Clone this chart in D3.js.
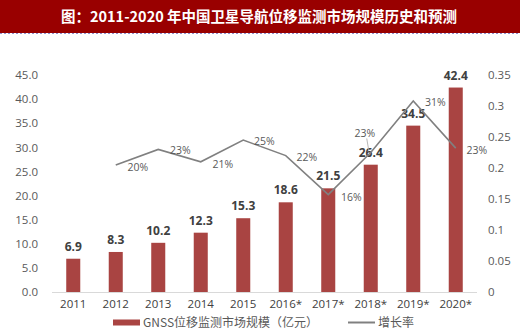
<!DOCTYPE html>
<html><head><meta charset="utf-8">
<script src="https://cdn.jsdelivr.net/npm/d3@7"></script>
<style>body{margin:0;background:#fff;}svg{display:block;}</style>
</head><body>
<svg id="c" width="520" height="333"></svg>
<script>
const categories = ["2011","2012","2013","2014","2015","2016*","2017*","2018*","2019*","2020*"];
const marketSize = [6.9, 8.3, 10.2, 12.3, 15.3, 18.6, 21.5, 26.4, 34.5, 42.4];
const growthCats = ["2012","2013","2014","2015","2016*","2017*","2018*","2019*","2020*"];
const growthRate = [0.205, 0.23, 0.21, 0.245, 0.22, 0.157, 0.225, 0.308, 0.232];
const growthLabels = ["20%","23%","21%","25%","22%","16%","23%","31%","23%"];
const leftTicks = [0,5,10,15,20,25,30,35,40,45];
const rightTicks = [0,0.05,0.1,0.15,0.2,0.25,0.3,0.35];
const rightTickLabels = ["0","0.05","0.1","0.15","0.2","0.25","0.3","0.35"];
const title = "图：2011-2020 年中国卫星导航位移监测市场规模历史和预测";
const legendBar = "GNSS位移监测市场规模（亿元）";
const legendLine = "增长率";

const svg = d3.select("#c");
const font = "'Noto Sans CJK SC','Noto Sans',sans-serif";

// title bar
svg.append("rect").attr("x",0).attr("y",0).attr("width",520).attr("height",33).attr("fill","#990000");
svg.append("line").attr("x1",0).attr("x2",520).attr("y1",33.5).attr("y2",33.5)
  .attr("stroke","#8f8fd0").attr("stroke-width",1).attr("stroke-dasharray","2,2");
svg.append("text").attr("x",259).attr("y",21.5).attr("text-anchor","middle")
  .attr("fill","#fff").attr("font-family",font).attr("font-weight","bold").attr("font-size",14.5)
  .text(title);

const x = d3.scaleBand().domain(categories).range([52,477]).paddingInner(0.67).paddingOuter(0.335);
const yL = d3.scaleLinear().domain([0,45]).range([292,75]);
const yR = d3.scaleLinear().domain([0,0.35]).range([292,75]);
const cx = d => x(d) + x.bandwidth()/2;

// left axis labels
const la = svg.append("g").attr("transform","translate(38,0)")
  .call(d3.axisLeft(yL).tickValues(leftTicks).tickFormat(d3.format(".1f")).tickSize(0).tickPadding(0));
la.select(".domain").remove();
la.selectAll("text").attr("fill","#595959").attr("font-family","'Open Sans','Noto Sans',sans-serif").attr("font-size",11.5);

// right axis labels
const ra = svg.append("g").attr("transform","translate(488,0)")
  .call(d3.axisRight(yR).tickValues(rightTicks).tickFormat((d,i)=>rightTickLabels[i]).tickSize(0).tickPadding(0));
ra.select(".domain").remove();
ra.selectAll("text").attr("fill","#595959").attr("font-family","'Open Sans','Noto Sans',sans-serif").attr("font-size",11.5);

// bars
svg.append("g").selectAll("rect").data(marketSize).join("rect")
  .attr("x",(d,i)=>x(categories[i])).attr("width",x.bandwidth())
  .attr("y",d=>yL(d)).attr("height",d=>yL(0)-yL(d)).attr("fill","#a94442");

// baseline
svg.append("line").attr("x1",52).attr("x2",477).attr("y1",292.5).attr("y2",292.5)
  .attr("stroke","#d9d9d9").attr("stroke-width",1);

// x axis
const xa = svg.append("g").attr("transform","translate(0,296)")
  .call(d3.axisBottom(x).tickSize(0).tickPadding(0));
xa.select(".domain").remove();
xa.selectAll("text").attr("dy","1em").attr("fill","#404040").attr("font-family","'Open Sans','Noto Sans',sans-serif").attr("font-size",11.5);

// bar value labels
svg.append("g").selectAll("text").data(marketSize).join("text")
  .attr("x",(d,i)=>cx(categories[i])).attr("y",d=>yL(d)-8)
  .attr("text-anchor","middle").attr("fill","#404040").attr("font-weight","bold")
  .attr("font-family","'Open Sans','Noto Sans',sans-serif").attr("font-size",12)
  .text(d=>d.toFixed(1));

// line
const line = d3.line().x((d,i)=>cx(growthCats[i])).y(d=>yR(d));
svg.append("path").datum(growthRate).attr("d",line).attr("fill","none")
  .attr("stroke","#808080").attr("stroke-width",1.6);

// growth labels
const labelOffsets = [[22,2],[22,1],[22,2],[21,1],[21,1],[23,2],[-6,-20],[22,1],[21,2]];
svg.append("g").selectAll("text").data(growthRate).join("text")
  .attr("x",(d,i)=>cx(growthCats[i])+labelOffsets[i][0])
  .attr("y",(d,i)=>yR(d)+labelOffsets[i][1]+4)
  .attr("text-anchor","middle").attr("fill","#595959")
  .attr("font-family","'Open Sans','Noto Sans',sans-serif").attr("font-size",10.5)
  .text((d,i)=>growthLabels[i]);
// leader line for 2018
{
  const i = 6; const px = cx(growthCats[i]), py = yR(growthRate[i]);
  svg.append("line").attr("x1",px-4).attr("y1",py-14).attr("x2",px-2).attr("y2",py-2)
    .attr("stroke","#a6a6a6").attr("stroke-width",0.8);
}

// legend
const lg = svg.append("g");
lg.append("rect").attr("x",113).attr("y",319.5).attr("width",27).attr("height",6).attr("fill","#a94442");
lg.append("text").attr("x",143).attr("y",327).attr("fill","#595959").attr("font-family",font).attr("font-size",12).text(legendBar);
lg.append("line").attr("x1",348).attr("x2",375).attr("y1",322.5).attr("y2",322.5).attr("stroke","#808080").attr("stroke-width",2);
lg.append("text").attr("x",378).attr("y",327).attr("fill","#595959").attr("font-family",font).attr("font-size",12).text(legendLine);
</script>
</body></html>
